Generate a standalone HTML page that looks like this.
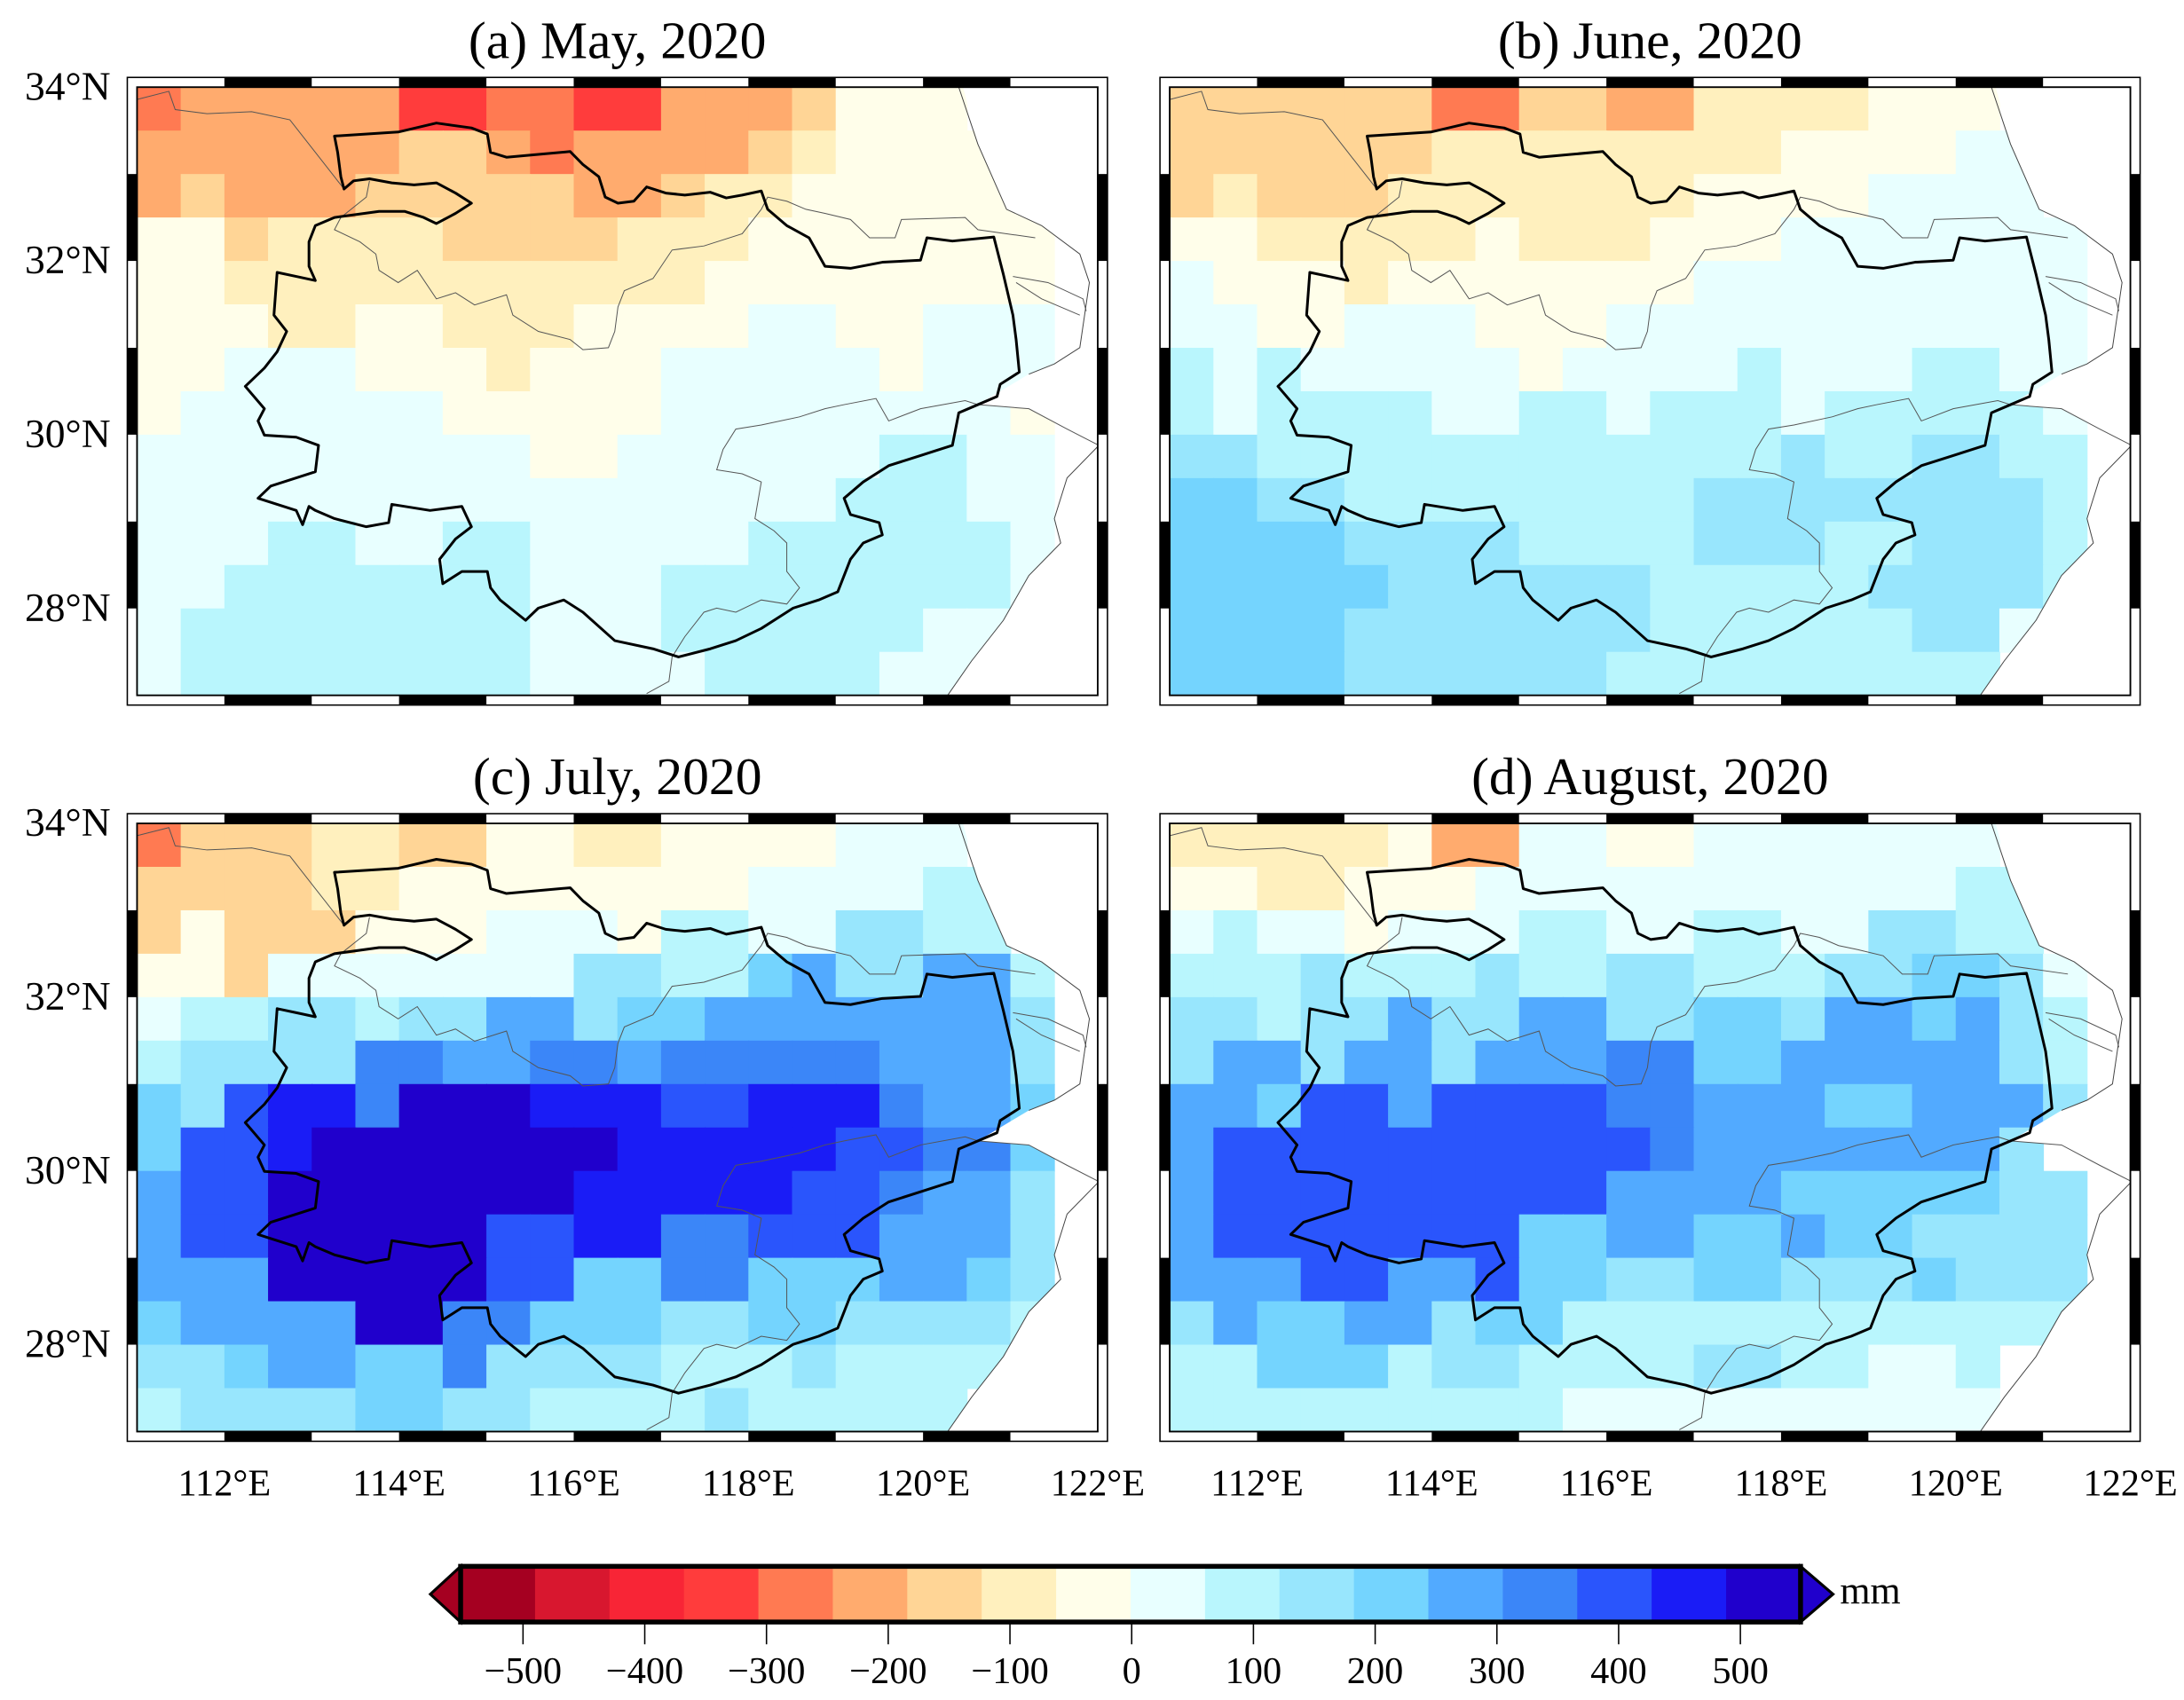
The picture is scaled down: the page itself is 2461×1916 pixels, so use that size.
<!DOCTYPE html>
<html><head><meta charset="utf-8"><title>Precipitation anomaly maps, May–August 2020</title>
<style>html,body{margin:0;padding:0;background:#fff}svg{display:block}text{font-family:"Liberation Serif",serif;fill:#000}</style>
</head><body>
<svg id="fig" xmlns="http://www.w3.org/2000/svg" width="2461" height="1916" viewBox="0 0 1568 1221" preserveAspectRatio="none"></svg>
<script>
// ---- data (mm), rows from 34N southward by 0.5deg, cols from 111E eastward by 0.5deg ----
const mayData = [
[-225,-175,-175,-175,-175,-175,-275,-275,-225,-225,-275,-275,-175,-175,-175,-125,-25,-25,-25,null,null,null],
[-175,-175,-175,-175,-175,-175,-125,-125,-175,-225,-175,-175,-175,-175,-125,-75,-25,-25,-25,-25,null,null],
[-175,-125,-175,-175,-175,-125,-125,-125,-125,-125,-175,-175,-125,-75,-75,-25,-25,-25,-25,-25,-25,null],
[-25,-25,-125,-75,-75,-75,-75,-125,-125,-125,-125,-75,-75,-75,-25,-25,-25,-25,-25,-25,-25,null],
[-25,-25,-75,-75,-75,-75,-75,-75,-75,-75,-75,-75,-75,-25,-25,-25,-25,-25,-25,-25,-25,null],
[-25,-25,-25,-75,-75,-25,-25,-75,-75,-75,-25,-25,-25,-25,25,25,-25,-25,25,25,25,null],
[-25,-25,25,25,25,-25,-25,-25,-75,-25,-25,-25,25,25,25,25,25,-25,25,25,25,null],
[-25,25,25,25,25,25,25,-25,-25,-25,-25,-25,25,25,25,25,25,25,25,25,-25,null],
[25,25,25,25,25,25,25,25,25,-25,-25,25,25,25,25,25,25,75,75,25,25,null],
[25,25,25,25,25,25,25,25,25,25,25,25,25,25,25,25,75,75,75,25,25,null],
[25,25,25,75,75,25,25,75,75,25,25,25,25,25,75,75,75,75,75,75,25,null],
[25,25,75,75,75,75,75,75,75,25,25,25,75,75,75,75,75,75,75,75,25,null],
[25,75,75,75,75,75,75,75,75,25,25,25,75,75,75,75,75,75,25,25,25,null],
[25,75,75,75,75,75,75,75,75,25,25,25,25,75,75,75,75,25,25,25,null,null]
];
const juneData = [
[-125,-125,-125,-125,-125,-125,-225,-225,-125,-125,-175,-175,-75,-75,-75,-75,-25,-25,-25,null,null,null],
[-125,-125,-125,-125,-125,-125,-75,-75,-75,-75,-75,-75,-75,-75,-25,-25,-25,-25,25,25,null,null],
[-125,-75,-125,-125,-125,-75,-75,-75,-75,-75,-75,-75,-25,-25,-25,-25,25,25,25,25,null,null],
[-25,-25,-75,-75,-75,-75,-75,-25,-75,-75,-75,-25,-25,-25,25,25,25,25,25,25,25,null],
[25,-25,-25,-25,-75,-25,-25,-25,-25,-25,-25,-25,25,25,25,25,25,25,25,25,25,null],
[25,25,-25,-25,25,25,25,-25,-25,-25,25,25,25,25,25,25,25,25,25,25,25,null],
[75,25,75,25,25,25,25,25,-25,25,25,25,25,75,25,25,25,75,75,25,25,null],
[75,25,75,75,75,75,25,25,75,75,25,75,75,75,25,75,75,75,75,75,25,null],
[125,125,75,75,75,75,75,75,75,75,75,75,75,75,125,75,75,125,125,75,75,null],
[175,175,125,125,75,75,75,75,75,75,75,75,125,125,125,125,125,125,125,125,75,null],
[175,175,175,175,125,125,125,125,75,75,75,75,125,125,125,75,75,125,125,125,75,null],
[175,175,175,175,175,125,125,125,125,125,125,75,75,75,75,75,125,125,125,125,75,null],
[175,175,175,175,125,125,125,125,125,125,125,75,75,75,75,75,75,125,125,25,null,null],
[175,175,175,175,125,125,125,125,125,125,75,75,75,75,75,75,75,75,75,null,null,null]
];
const julyData = [
[-225,-125,-125,-125,-75,-75,-125,-125,-25,-25,-75,-75,-25,-25,-25,-25,25,25,25,null,null,null],
[-125,-125,-125,-125,-75,-75,-25,-25,-25,-25,-25,-25,-25,-25,25,25,25,25,75,75,null,null],
[-125,-25,-125,-125,-125,-25,-25,-25,25,25,25,-25,75,75,25,25,125,125,75,75,null,null],
[-25,-25,-125,25,25,25,25,25,25,25,125,125,75,75,175,225,125,125,225,225,75,null],
[25,75,75,125,125,75,125,125,225,225,125,175,175,225,225,225,225,225,225,225,125,null],
[75,125,125,125,125,275,275,225,225,275,275,225,275,275,275,275,275,225,225,225,125,null],
[175,125,325,375,375,275,425,425,425,375,375,375,325,325,375,375,375,275,225,225,175,null],
[175,325,325,375,425,425,425,425,425,425,425,375,375,375,375,375,325,325,275,275,175,null],
[225,325,325,425,425,425,425,425,425,425,375,375,375,375,375,325,325,275,225,225,125,null],
[225,325,325,425,425,425,425,425,325,325,375,375,275,275,325,325,325,225,225,225,125,null],
[225,225,225,425,425,425,425,425,325,325,175,175,275,275,175,175,175,225,225,175,125,null],
[175,225,225,225,225,425,425,275,275,175,175,175,125,125,175,175,125,125,125,125,75,null],
[125,125,175,225,225,175,175,275,125,125,125,125,75,75,75,125,75,75,75,75,null,null],
[75,125,125,125,125,175,175,125,125,75,75,75,75,125,75,75,75,75,75,null,null,null]
];
const augustData = [
[-75,-75,-75,-75,-75,-25,-175,-175,25,25,-25,-25,25,25,25,25,25,25,25,null,null,null],
[-25,-25,-75,-75,-25,-25,-25,25,25,25,25,25,25,25,25,25,25,25,75,75,null,null],
[25,75,25,25,-25,25,25,25,75,75,25,25,75,75,25,25,125,125,75,75,null,null],
[75,75,75,125,75,75,75,125,75,75,125,125,75,75,75,125,125,175,175,125,25,null],
[125,125,75,125,125,225,125,125,225,225,125,125,175,175,125,225,225,175,225,125,75,null],
[125,225,225,125,225,225,125,225,225,225,275,275,175,175,225,225,225,225,225,125,75,null],
[225,225,175,325,325,225,325,325,325,325,275,275,225,225,225,175,175,225,225,225,125,null],
[225,325,325,325,325,325,325,325,325,325,325,275,225,225,225,225,225,225,225,125,null,null],
[225,325,325,325,325,325,325,325,325,325,225,225,225,225,175,175,175,175,175,125,125,null],
[225,325,325,325,325,325,325,325,175,175,225,225,175,175,225,175,175,125,125,125,125,null],
[225,225,225,325,325,225,225,325,175,175,125,125,175,175,125,125,125,175,125,125,125,null],
[125,225,175,175,225,225,125,175,175,75,75,75,75,75,75,75,75,75,75,75,75,null],
[75,75,175,175,175,75,125,125,75,75,75,75,125,125,75,75,25,25,75,null,null,null],
[75,75,75,75,75,75,75,75,75,25,25,25,25,25,25,25,25,25,25,null,null,null]
];
const panelTitles = ["(a) May, 2020","(b) June, 2020","(c) July, 2020","(d) August, 2020"];
const lonTicks = [112,114,116,118,120,122];
const latTicks = [34,32,30,28];
const cbarTicks = [-500,-400,-300,-200,-100,0,100,200,300,400,500];
const cbarColors = ["#a50021","#d8172f","#f82536","#ff3c3c","#ff7a52","#ffab6e","#ffd596","#fff0be","#fffeea","#e8ffff","#b9f6fd","#98e6fd","#74d4fe","#52aaff","#3b86f8","#2a55fc","#1a1cf6","#2000cc"];

const NS="http://www.w3.org/2000/svg";
const svg=document.getElementById('fig');
function el(tag,attrs,parent){const e=document.createElementNS(NS,tag);for(const k in attrs)e.setAttribute(k,attrs[k]);(parent||svg).appendChild(e);return e;}
const PXLON=62.7, PXLAT=62.4, LON0=111, LAT0=34, MW=11*PXLON, MH=7*PXLAT;
function colorOf(v){let b=Math.floor(v/50)+10;b=Math.max(1,Math.min(18,b));return cbarColors[b-1];}

const boundary="M330,160 L430,150 L490,128 L545,140 L570,155 L575,200 L600,212 L650,205 L700,198 L720,230 L745,260 L755,310 L775,325 L800,320 L820,285 L850,300 L880,305 L920,298 L945,312 L970,305 L1000,295 L1010,340 L1040,380 L1075,410 L1100,480 L1140,485 L1190,470 L1250,465 L1260,410 L1300,418 L1365,408 L1380,500 L1395,600 L1400,660 L1405,740 L1375,770 L1370,800 L1340,820 L1310,840 L1300,920 L1250,945 L1200,970 L1160,1010 L1130,1050 L1140,1090 L1185,1110 L1190,1140 L1160,1160 L1140,1200 L1120,1280 L1090,1300 L1050,1320 L1000,1370 L960,1400 L920,1420 L870,1440 L830,1420 L770,1400 L720,1330 L690,1300 L650,1320 L630,1350 L590,1300 L575,1270 L570,1230 L530,1230 L500,1260 L495,1200 L520,1150 L545,1120 L530,1070 L480,1080 L420,1065 L415,1110 L380,1120 L330,1100 L300,1080 L290,1070 L280,1115 L270,1080 L210,1050 L230,1020 L300,985 L305,920 L270,900 L220,895 L210,860 L220,830 L190,775 L220,730 L240,690 L255,640 L235,600 L240,495 L270,505 L300,515 L290,480 L290,420 L300,380 L330,360 L400,345 L440,345 L470,360 L490,375 L520,350 L545,325 L520,300 L490,275 L455,280 L420,275 L385,265 L360,270 L345,290 L340,260 L335,200 Z";
const rivers=[
"M20,70 L70,50 L80,95 L130,105 L200,100 L260,120 L300,200 L330,260 L345,290",
"M385,270 L380,310 L340,360 L330,390 L370,420 L395,450 L400,490 L430,520 L460,490 L490,560 L520,545 L550,575 L600,550 L610,600 L650,640 L700,660 L720,685 L760,680 L770,640 L775,580 L785,540 L830,510 L860,440 L910,430 L970,400 L1000,340 L1010,310 L1040,320 L1070,340 L1100,350 L1140,365 L1170,410 L1210,410 L1220,365 L1320,360 L1340,390 L1430,410",
"M1340,820 L1320,810 L1250,830 L1200,860 L1180,805 L1130,820 L1100,830 L1060,850 L1000,870 L960,880 L940,930 L930,980 L970,990 L1000,1010 L990,1100 L1020,1130 L1040,1160 L1040,1230 L1060,1270 L1040,1310 L1000,1300 L960,1330 L930,1320 L910,1330 L880,1390 L860,1440 L855,1500 L820,1530",
"M1340,820 L1420,830 L1480,880 L1530,920",
"M1395,505 L1450,520 L1505,560 L1510,590",
"M1400,520 L1440,560 L1500,600"
];
const coast="M1310,40 L1340,180 L1385,340 L1440,380 L1500,450 L1515,520 L1500,680 L1460,720 L1420,745 M1530,920 L1480,1000 L1460,1100 L1470,1160 L1420,1240 L1380,1350 L1330,1450 L1290,1540";
const sea="M1310,0 L1340,180 L1385,340 L1440,380 L1500,450 L1515,520 L1500,680 L1460,720 L1420,745 L1340,820 L1420,830 L1480,880 L1530,920 L1480,1000 L1460,1100 L1470,1160 L1420,1240 L1380,1350 L1330,1450 L1290,1540 L1700,1540 L1700,0 Z";

const panels=[
 {key:'may',data:mayData,ox:98.4,oy:62.6,latLab:true,lonLab:false},
 {key:'june',data:juneData,ox:839.8,oy:62.6,latLab:false,lonLab:false},
 {key:'july',data:julyData,ox:98.4,oy:591.4,latLab:true,lonLab:true},
 {key:'august',data:augustData,ox:839.8,oy:591.4,latLab:false,lonLab:true}
];
const defs=el('defs',{});
panels.forEach((p,pi)=>{
  const g=el('g',{});
  
  
  const cp=el('clipPath',{id:'clip'+pi},defs);
  el('rect',{x:p.ox,y:p.oy,width:MW,height:MH},cp);
  const strip=el('rect',{x:p.ox-7,y:p.oy-7,width:MW+14,height:MH+14,fill:'#fff',stroke:'#000','stroke-width':1},g);
  
  
  for(let k=1;k<11;k+=2){
    const x=p.ox+k*PXLON;
    el('rect',{x:x,y:p.oy-7,width:PXLON,height:7,fill:'#000'},g);
    el('rect',{x:x,y:p.oy+MH,width:PXLON,height:7,fill:'#000'},g);
  }
  for(let k=1;k<7;k+=2){
    const y=p.oy+k*PXLAT;
    el('rect',{x:p.ox-7,y:y,width:7,height:PXLAT,fill:'#000'},g);
    el('rect',{x:p.ox+MW,y:y,width:7,height:PXLAT,fill:'#000'},g);
  }
  const cg=el('g',{'clip-path':'url(#clip'+pi+')'},g);
  
  
  el('rect',{x:p.ox,y:p.oy,width:MW,height:MH,fill:'#fff'},cg);
  p.data.forEach((row,j)=>row.forEach((v,i)=>{
    if(v===null)return;
    const lon=LON0+i*0.5, lat=LAT0-j*0.5;
    const r=el('rect',{x:p.ox+(lon-LON0)*PXLON,y:p.oy+(LAT0-lat)*PXLAT,width:0.5*PXLON+0.6,height:0.5*PXLAT+0.6,fill:colorOf(v)},cg);
    
    
  }));
  const mg=el('g',{transform:'translate('+(p.ox-98.4)+','+(p.oy-62.6)+') matrix(0.45737,0,0,0.29227,89.20,50.97)'},cg);
  const s=el('path',{d:sea,fill:'#fff'},mg);
  
  
  rivers.forEach(d=>{const r=el('path',{d:d,fill:'none',stroke:'#555','stroke-width':1,'vector-effect':'non-scaling-stroke'},mg);
    
    });
  const c=el('path',{d:coast,fill:'none',stroke:'#444','stroke-width':1,'vector-effect':'non-scaling-stroke'},mg);
  
  
  const b=el('path',{d:boundary,fill:'none',stroke:'#000','stroke-width':3,'stroke-linejoin':'round','vector-effect':'non-scaling-stroke'},mg);
  
  
  el('rect',{x:p.ox,y:p.oy,width:MW,height:MH,fill:'none',stroke:'#000','stroke-width':1.2},g);
  const t=el('text',{x:p.ox+MW/2,y:p.oy-21,'text-anchor':'middle','font-size':38},g);
  t.textContent=panelTitles[pi];
  
  
  if(p.latLab) latTicks.forEach(lat=>{
    const tt=el('text',{x:p.ox-19,y:p.oy+(LAT0-lat)*PXLAT+9,'text-anchor':'end','font-size':29},g);
    tt.textContent=lat+'°N';
    
    
  });
  if(p.lonLab) lonTicks.forEach(lon=>{
    const tt=el('text',{x:p.ox+(lon-LON0)*PXLON,y:p.oy+MH+46,'text-anchor':'middle','font-size':27},g);
    tt.textContent=lon+'°E';
    
    
  });
});
const cb=el('g',{});


const CX0=330.7, CX1=1292.7, CY0=1125, CY1=1165, BW=(CX1-CX0)/cbarColors.length, CYM=(CY0+CY1)/2;
cbarColors.forEach((col,i)=>{
  const r=el('rect',{x:CX0+i*BW,y:CY0,width:BW+0.5,height:CY1-CY0,fill:col},cb);
  
  
});
const lt=el('polygon',{points:`${CX0},${CY0} 309,${CYM} ${CX0},${CY1}`,fill:cbarColors[0],stroke:'#000','stroke-width':2},cb);


const rt=el('polygon',{points:`${CX1},${CY0} 1316,${CYM} ${CX1},${CY1}`,fill:cbarColors[17],stroke:'#000','stroke-width':2},cb);


el('rect',{x:CX0,y:CY0,width:CX1-CX0,height:CY1-CY0,fill:'none',stroke:'#000','stroke-width':3.5},cb);
function cbX(v){return 812.5+v*0.874;}
cbarTicks.forEach(v=>{
  el('line',{x1:cbX(v),x2:cbX(v),y1:CY1,y2:1181,stroke:'#000','stroke-width':1},cb);
  const t=el('text',{x:cbX(v),y:1209,'text-anchor':'middle','font-size':27},cb);
  t.textContent=(v<0?'\u2212'+(-v):String(v));
  
  
});
const mm=el('text',{x:1321,y:1152,'font-size':28},cb);
mm.textContent='mm';


</script>
</body></html>
